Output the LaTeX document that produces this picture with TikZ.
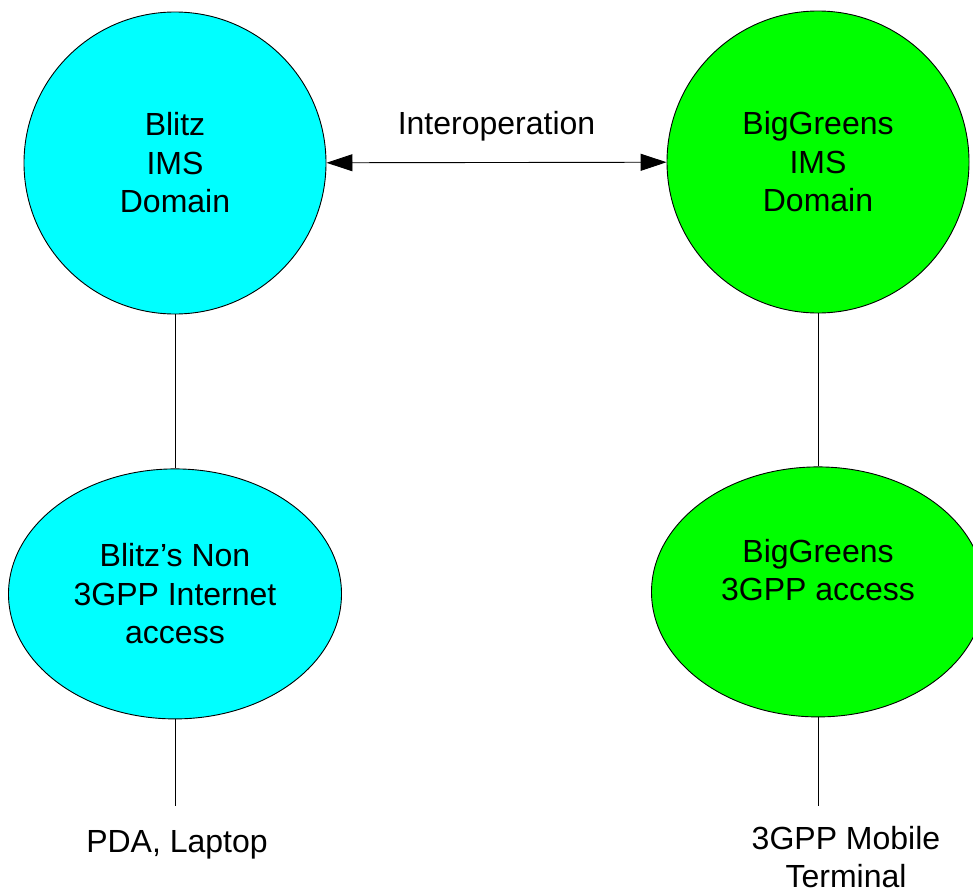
\documentclass[tikz,border=0pt]{standalone}
\usepackage{fontspec}
\setmainfont{Liberation Sans}
\usepackage{tikz}
\usetikzlibrary{shapes.geometric,arrows.meta,positioning}
\definecolor{blitzcyan}{RGB}{0,255,255}
\definecolor{greensgreen}{RGB}{0,255,0}
\tikzstyle{imsdomain}=[circle, draw, align=center, minimum size=302pt, inner sep=0pt,
  font=\fontsize{32}{38.5}\selectfont]
\tikzstyle{accessnet}=[ellipse, draw, align=center, minimum width=333pt, minimum height=250pt,
  inner sep=0pt, font=\fontsize{32}{38.5}\selectfont]
\tikzstyle{termlabel}=[align=center, inner sep=0pt, font=\fontsize{32}{38.5}\selectfont]

\begin{document}
\begin{tikzpicture}[x=1pt, y=-1pt, line width=0.9pt]
  \useasboundingbox (0,0) rectangle (973,894);
  % IMS domains
  \node[imsdomain, fill=blitzcyan] (blitzims) at (175,163) {Blitz\\IMS\\Domain};
  \node[imsdomain, fill=greensgreen] (greensims) at (818,162) {BigGreens\\IMS\\Domain};
  % access networks
  \node[accessnet, fill=blitzcyan, below=154pt of blitzims]
    (blitzacc) {Blitz’s Non\\3GPP Internet\\access};
  \node[accessnet, fill=greensgreen, text depth=44pt, below=153pt of greensims]
    (greensacc) {BigGreens\\3GPP access};
  % terminals
  \coordinate (blitzend) at (175,806);
  \coordinate (greensend) at (818,806);
  \node[termlabel] (pda) at (177,845) {PDA, Laptop};
  \node[termlabel] (mobile) at (846,857) {3GPP Mobile\\Terminal};
  % lines
  \draw[{Triangle[length=26pt,width=17pt]}-{Triangle[length=26pt,width=17pt]}]
    (blitzims) -- node[yshift=36pt, font=\fontsize{32}{38.5}\selectfont]{Interoperation}
    (greensims);
  \draw (blitzims) -- (blitzacc);
  \draw (greensims) -- (greensacc);
  \draw (blitzacc) -- (blitzend);
  \draw (greensacc.south) -- (greensend);
\end{tikzpicture}
\end{document}
